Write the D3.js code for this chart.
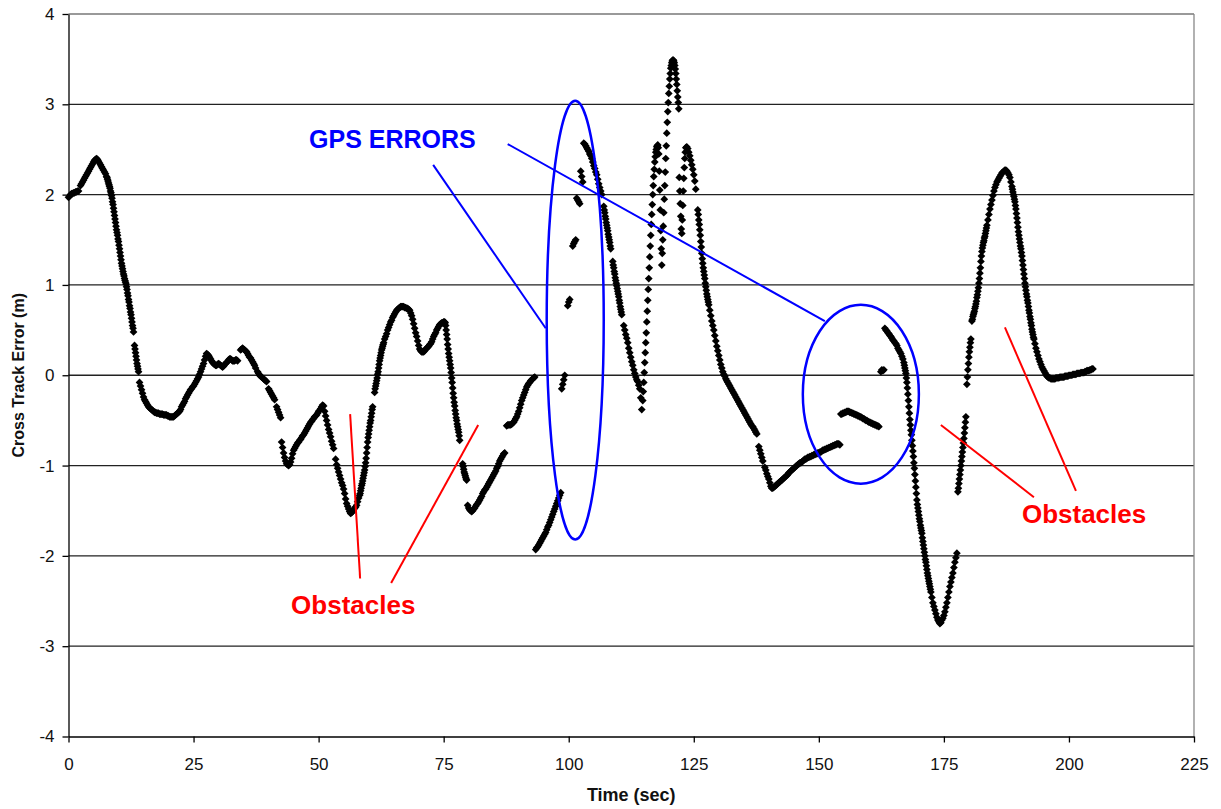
<!DOCTYPE html>
<html>
<head>
<meta charset="utf-8">
<script src="https://cdn.jsdelivr.net/npm/d3@7"></script>
<style>
  html, body { margin: 0; padding: 0; background: #fff; }
  svg { display: block; }
  text { font-family: "Liberation Sans", Arial, sans-serif; }
</style>
</head>
<body>
<svg id="chart" width="1221" height="809"></svg>
<script>
// Cross track error log. Each run is a stretch of consecutive fixes that
// starts at segStart[i] and is spaced segStep[i] seconds apart; breaks
// between runs are dropped fixes.
const segStart = [
  0.0, 2.4, 7.6, 13.2, 14.2, 34.4, 37.8, 40.0, 41.6, 42.6,
  53.4, 58.3, 61.2, 63.2, 75.3, 78.8, 79.8, 87.6, 93.4, 98.6,
  99.8, 100.8, 101.6, 102.4, 103.0, 107.0, 108.8, 111.0, 114.8, 123.6,
  125.8, 128.2, 138.0, 139.2, 154.4, 162.4, 163.2, 167.0, 172.6, 177.8,
  179.6, 180.6, 183.8, 188.7, 193.2
];
const segStep = [
  0.2, 0.2, 0.1, 0.1, 0.2, 0.2, 0.2, 0.2, 0.2, 0.2,
  0.2, 0.1, 0.1, 0.2, 0.1, 0.1, 0.2, 0.2, 0.2, 0.2,
  0.2, 0.2, 0.2, 0.2, 0.2, 0.1, 0.1, 0.2, 0.1, 0.2,
  0.1, 0.2, 0.2, 0.2, 0.2, 0.2, 0.2, 0.1, 0.2, 0.1,
  0.1, 0.1, 0.2, 0.1, 0.2
];

const segValues = [
  [1.97,1.98,2.00,2.01,2.01,2.02,2.02,2.03,2.03,2.04,2.04],
  [2.10,2.12,2.14,2.16,2.18,2.20,2.22,2.24,2.26,2.28,2.30,2.32,2.34,2.36,2.38,2.39,2.40,2.39,2.37,2.35,
   2.33,2.31,2.29,2.27,2.25,2.23],
  [2.20,2.19,2.17,2.15,2.13,2.11,2.09,2.07,2.04,2.02,1.99,1.96,1.92,1.89,1.85,1.81,1.77,1.73,1.69,1.65,
   1.61,1.58,1.55,1.51,1.48,1.44,1.40,1.36,1.32,1.28,1.24,1.21,1.18,1.15,1.12,1.10,1.07,1.05,1.03,1.01,
   0.98,0.95,0.91,0.88,0.84,0.81,0.77,0.74,0.70,0.67,0.63,0.59,0.55,0.52,0.48],
  [0.33,0.29,0.25,0.21,0.17,0.13,0.10,0.07,0.04],
  [-0.08,-0.12,-0.16,-0.20,-0.24,-0.27,-0.29,-0.31,-0.33,-0.35,
   -0.36,-0.37,-0.38,-0.39,-0.40,-0.41,-0.41,-0.42,-0.42,-0.42,
   -0.43,-0.43,-0.43,-0.43,-0.44,-0.44,-0.44,-0.44,-0.45,-0.45,
   -0.46,-0.46,-0.46,-0.46,-0.46,-0.45,-0.44,-0.43,-0.42,-0.41,
   -0.40,-0.38,-0.35,-0.33,-0.31,-0.29,-0.26,-0.24,-0.22,-0.20,
   -0.18,-0.16,-0.15,-0.13,-0.12,-0.10,-0.08,-0.06,-0.04,-0.02,
   0.01,0.04,0.07,0.10,0.13,0.17,0.21,0.24,0.23,0.22,
   0.20,0.18,0.16,0.14,0.13,0.12,0.11,0.11,0.12,0.13,
   0.12,0.11,0.10,0.09,0.10,0.12,0.13,0.14,0.15,0.17,
   0.18,0.18,0.17,0.16,0.16,0.16,0.17,0.17,0.16],
  [0.28,0.29,0.30,0.29,0.28,0.27,0.26,0.24,0.22,0.20,0.19,0.17,0.15,0.13,0.11,0.08],
  [0.04,0.02,0.00,-0.01,-0.02,-0.03,-0.04,-0.05,-0.06,-0.07],
  [-0.15,-0.17,-0.19,-0.21,-0.23,-0.25,-0.27],
  [-0.35,-0.38,-0.41,-0.44,-0.47],
  [-0.74,-0.80,-0.86,-0.91,-0.95,-0.98,-0.99,-1.00,-0.99,-0.96,
   -0.92,-0.87,-0.83,-0.81,-0.79,-0.77,-0.75,-0.74,-0.72,-0.71,
   -0.69,-0.67,-0.66,-0.64,-0.62,-0.60,-0.58,-0.56,-0.54,-0.52,
   -0.51,-0.49,-0.48,-0.46,-0.45,-0.44,-0.42,-0.40,-0.39,-0.37,
   -0.35,-0.33,-0.34,-0.40,-0.45,-0.50,-0.55,-0.60,-0.64,-0.68,
   -0.73,-0.77,-0.81],
  [-0.93,-0.99,-1.03,-1.07,-1.11,-1.15,-1.19,-1.22,-1.26,-1.31,
   -1.37,-1.42,-1.45,-1.48,-1.51,-1.53,-1.52,-1.51,-1.49,-1.47,
   -1.46,-1.44,-1.40,-1.36,-1.33],
  [-1.31,-1.28,-1.25,-1.22,-1.20,-1.17,-1.14,-1.11,-1.08,-1.05,
   -1.01,-0.97,-0.92,-0.86,-0.80,-0.74,-0.69,-0.65,-0.61,-0.57,
   -0.53,-0.50,-0.46,-0.42,-0.38,-0.35],
  [-0.19,-0.15,-0.12,-0.09,-0.06,-0.03,0.01,0.04,0.08,0.12,
   0.16,0.19,0.22,0.25,0.28,0.30,0.32,0.34,0.36],
  [0.40,0.43,0.46,0.50,0.53,0.56,0.59,0.61,0.64,0.66,
   0.68,0.70,0.72,0.73,0.74,0.75,0.76,0.76,0.76,0.76,
   0.75,0.75,0.74,0.74,0.73,0.72,0.69,0.66,0.62,0.57,
   0.52,0.47,0.43,0.38,0.33,0.29,0.27,0.26,0.26,0.26,
   0.27,0.29,0.30,0.31,0.32,0.34,0.35,0.37,0.40,0.43,
   0.45,0.47,0.50,0.52,0.54,0.56,0.57,0.58,0.58,0.59,
   0.59],
  [0.58,0.55,0.50,0.45,0.40,0.34,0.29,0.24,0.20,0.16,
   0.12,0.08,0.03,-0.03,-0.08,-0.14,-0.20,-0.25,-0.30,-0.34,
   -0.39,-0.43,-0.47,-0.50,-0.54,-0.57,-0.60,-0.63,-0.67,-0.72],
  [-0.98,-1.01,-1.04,-1.07,-1.09,-1.11,-1.13,-1.15,-1.16],
  [-1.44,-1.47,-1.49,-1.50,-1.51,-1.50,-1.48,-1.47,-1.45,-1.43,
   -1.42,-1.40,-1.38,-1.36,-1.34,-1.31,-1.29,-1.27,-1.26,-1.24,
   -1.22,-1.20,-1.18,-1.16,-1.14,-1.12,-1.10,-1.08,-1.06,-1.03,
   -1.01,-0.98,-0.95,-0.93,-0.91,-0.89,-0.87,-0.86],
  [-0.56,-0.55,-0.55,-0.55,-0.55,-0.54,-0.53,-0.52,-0.50,-0.48,
   -0.46,-0.43,-0.40,-0.36,-0.32,-0.28,-0.25,-0.22,-0.19,-0.16,
   -0.13,-0.11,-0.09,-0.08,-0.06,-0.05,-0.04,-0.03,-0.02],
  [-1.93,-1.91,-1.90,-1.88,-1.86,-1.84,-1.82,-1.80,-1.78,-1.76,
   -1.74,-1.71,-1.68,-1.66,-1.63,-1.60,-1.57,-1.54,-1.51,-1.48,
   -1.45,-1.42,-1.39,-1.36,-1.33,-1.30],
  [-0.15,-0.10,-0.05,0.00],
  [0.77,0.81,0.84],
  [1.43,1.46,1.48,1.50],
  [1.96,1.94,1.92,1.90],
  [2.26,2.20,2.14],
  [2.57,2.56,2.54,2.52,2.50,2.48,2.45,2.43,2.40,2.36,2.32,2.29,2.25,2.22,2.17,2.12,2.08,2.04,2.00],
  [1.87,1.83,1.80,1.76,1.73,1.69,1.66,1.63,1.60,1.56,1.53,1.50,1.47,1.43,1.40],
  [1.26,1.22,1.19,1.15,1.12,1.08,1.05,1.02,0.99,0.96,0.93,0.90,0.87,0.83,0.80,0.76,0.73,0.70,0.67],
  [0.55,0.50,0.45,0.41,0.36,0.30,0.25,0.20,0.15,0.11,0.06,0.02,-0.02,-0.05,-0.07,-0.11,-0.15,-0.25,-0.38],
  [-0.28,-0.18,-0.08,0.03,0.14,0.25,0.36,0.47,0.59,0.71,
   0.83,0.95,1.07,1.19,1.31,1.43,1.55,1.67,1.78,1.89,
   2.00,2.10,2.20,2.28,2.36,2.42,2.47,2.50,2.53,2.54,
   2.55,2.52,2.45,2.26,2.05,1.83,1.60,1.40,1.22,1.35,
   1.50,1.65,1.80,1.95,2.10,2.25,2.40,2.54,2.68,2.80,
   2.92,3.02,3.12,3.20,3.28,3.34,3.40,3.43,3.46,3.48,
   3.49,3.49,3.48,3.46,3.43,3.39,3.34,3.28,3.22,3.15,
   3.08,3.02,2.95,2.19,2.04,1.90,1.76,1.62,1.57,1.72,
   1.88,2.04,2.18,2.30,2.40,2.47,2.52],
  [2.53,2.51,2.47,2.43,2.38,2.33,2.28,2.22,2.15,2.06],
  [1.83,1.78,1.72,1.67,1.61,1.55,1.48,1.42,1.35,1.29,
   1.24,1.19,1.15,1.11,1.07,1.02,0.98,0.94,0.90,0.87,
   0.84,0.81,0.78],
  [0.72,0.66,0.60,0.55,0.50,0.44,0.38,0.32,0.27,0.22,
   0.17,0.12,0.08,0.04,0.01,-0.01,-0.04,-0.06,-0.08,-0.10,
   -0.12,-0.14,-0.16,-0.18,-0.20,-0.22,-0.24,-0.26,-0.28,-0.30,
   -0.32,-0.34,-0.36,-0.38,-0.40,-0.42,-0.44,-0.46,-0.48,-0.50,
   -0.52,-0.54,-0.56,-0.57,-0.59,-0.61,-0.63,-0.65],
  [-0.79,-0.83,-0.87,-0.91,-0.95],
  [-1.02,-1.05,-1.09,-1.12,-1.15,-1.19,-1.23,-1.25,
   -1.25,-1.24,-1.23,-1.22,-1.21,-1.20,-1.19,-1.18,-1.17,-1.16,
   -1.15,-1.14,-1.13,-1.12,-1.11,-1.10,-1.08,-1.07,-1.06,-1.05,
   -1.04,-1.03,-1.02,-1.01,-1.00,-0.99,-0.98,-0.97,-0.97,-0.96,
   -0.95,-0.94,-0.93,-0.93,-0.92,-0.91,-0.91,-0.90,-0.90,-0.89,
   -0.89,-0.88,-0.88,-0.87,-0.87,-0.86,-0.86,-0.85,-0.85,-0.84,
   -0.83,-0.83,-0.82,-0.82,-0.81,-0.81,-0.80,-0.80,-0.79,-0.79,
   -0.78,-0.78,-0.77,-0.77,-0.76,-0.76,-0.76,-0.77],
  [-0.43,-0.43,-0.42,-0.42,-0.41,-0.41,-0.40,-0.40,-0.40,-0.41,
   -0.41,-0.42,-0.42,-0.43,-0.43,-0.44,-0.44,-0.45,-0.45,-0.46,
   -0.46,-0.47,-0.48,-0.48,-0.49,-0.50,-0.50,-0.51,-0.52,-0.52,
   -0.53,-0.53,-0.54,-0.54,-0.55,-0.55,-0.56,-0.56,-0.57],
  [0.04,0.06,0.05,0.06],
  [0.52,0.50,0.49,0.47,0.46,0.44,0.43,0.41,0.39,0.38,
   0.36,0.35,0.33,0.30,0.28,0.26,0.24,0.21,0.18],
  [0.14,0.11,0.08,0.05,0.02,-0.03,-0.08,-0.14,-0.21,-0.28,
   -0.35,-0.42,-0.49,-0.55,-0.61,-0.66,-0.72,-0.78,-0.84,-0.90,
   -0.97,-1.03,-1.10,-1.17,-1.24,-1.31,-1.38,-1.43,-1.47,-1.51,
   -1.55,-1.59,-1.62,-1.66,-1.69,-1.72,-1.75,-1.80,-1.84,-1.88,
   -1.92,-1.96,-2.00,-2.04,-2.07,-2.11,-2.15,-2.19,-2.22,-2.25,
   -2.28,-2.31,-2.34,-2.37,-2.40],
  [-2.46,-2.52,-2.56,-2.60,-2.64,-2.68,-2.71,-2.73,-2.75,-2.74,
   -2.71,-2.69,-2.66,-2.62,-2.57,-2.52,-2.46,-2.40,-2.34,-2.29,
   -2.24,-2.19,-2.13,-2.07,-2.02,-1.97],
  [-1.29,-1.25,-1.20,-1.15,-1.10,-1.05,-1.00,-0.95,-0.90,-0.85,
   -0.80,-0.75,-0.70,-0.64,-0.58,-0.52,-0.46],
  [-0.10,-0.02,0.06,0.13,0.20,0.26,0.31,0.36,0.40],
  [0.60,0.62,0.65,0.67,0.69,0.71,0.74,0.76,0.79,0.82,
   0.86,0.89,0.93,0.97,1.02,1.07,1.13,1.19,1.26,1.32,
   1.37,1.41,1.44,1.47,1.49,1.52,1.54,1.57,1.60,1.63,
   1.66],
  [1.72,1.78,1.84,1.89,1.94,1.99,2.04,2.08,2.11,2.14,
   2.16,2.18,2.20,2.22,2.24,2.25,2.26,2.27,2.27,2.26,
   2.24,2.22,2.19,2.14,2.09],
  [2.06,2.03,2.00,1.98,1.95,1.92,1.88,1.84,1.79,1.74,
   1.69,1.64,1.59,1.55,1.51,1.47,1.43,1.40,1.36,1.32,
   1.27,1.22,1.17,1.12,1.07,1.02,0.98,0.94,0.90,0.87,
   0.83,0.80,0.76,0.72,0.69,0.65,0.62,0.58,0.55,0.51,
   0.48,0.45,0.42,0.40],
  [0.35,0.30,0.26,0.22,0.18,0.15,0.12,
   0.09,0.07,0.05,0.03,0.01,-0.01,-0.02,-0.03,-0.03,-0.04,
   -0.04,-0.04,-0.04,-0.04,-0.03,-0.03,-0.03,-0.03,-0.02,-0.02,
   -0.02,-0.02,-0.02,-0.01,-0.01,-0.01,-0.01,0.00,0.00,0.00,
   0.00,0.01,0.01,0.01,0.01,0.02,0.02,0.02,0.02,0.03,
   0.03,0.03,0.03,0.04,0.04,0.05,0.05,0.05,0.06,0.06,
   0.07,0.07]
];

const xTicks = [0, 25, 50, 75, 100, 125, 150, 175, 200, 225];
const yTicks = [-4, -3, -2, -1, 0, 1, 2, 3, 4];
const xTitle = "Time (sec)";
const yTitle = "Cross Track Error (m)";

// Callouts, in data units: [t1, v1, t2, v2]
const gpsLeaders = [[72.9, 2.33, 95.4, 0.52], [87.8, 2.56, 151.2, 0.60]];
const gpsRings = [[101.3, 0.61, 5.7, 2.43], [158.4, -0.21, 11.6, 0.99]];   // [t, v, half-width s, half-height m]
const obstacleLeaders = [[56.3, -0.43, 58.3, -2.25], [81.9, -0.55, 64.5, -2.30],
                         [174.4, -0.55, 193.0, -1.35], [187.2, 0.53, 201.4, -1.28]];
const gpsLabel = ["GPS ERRORS", 48.1, 2.52];
const obstacleLabels = [["Obstacles", 44.5, -2.64], ["Obstacles", 190.6, -1.64]];

// ---- layout
const svg = d3.select("#chart");
const plot = { left: 68.5, right: 1194, top: 14, bottom: 736.5 };

const x = d3.scaleLinear().domain([0, 225]).range([plot.left, plot.right]);
const y = d3.scaleLinear().domain([-4, 4]).range([plot.bottom, plot.top]);

// horizontal gridlines
svg.append("g")
  .selectAll("line")
  .data(yTicks.filter(d => d > -4))
  .join("line")
  .attr("x1", plot.left).attr("x2", plot.right)
  .attr("y1", d => y(d)).attr("y2", d => y(d))
  .attr("stroke", d => d === 4 ? "#777" : "#222")
  .attr("stroke-width", 1.3);

// right edge of the plot area
svg.append("line")
  .attr("x1", plot.right).attr("x2", plot.right)
  .attr("y1", plot.top).attr("y2", plot.bottom)
  .attr("stroke", "#888").attr("stroke-width", 1.3);

// axes
const xAxis = svg.append("g")
  .attr("transform", `translate(0,${plot.bottom})`)
  .call(d3.axisBottom(x).tickValues(xTicks).tickSize(6).tickSizeOuter(0)
        .tickPadding(15).tickFormat(d => String(d)));
const yAxis = svg.append("g")
  .attr("transform", `translate(${plot.left},0)`)
  .call(d3.axisLeft(y).tickValues(yTicks).tickSize(6).tickSizeOuter(0)
        .tickPadding(8).tickFormat(d => String(d)));

[xAxis, yAxis].forEach(g => {
  g.select(".domain").attr("stroke", "#000").attr("stroke-width", 1.3);
  g.selectAll(".tick line").attr("stroke", "#000").attr("stroke-width", 1.3);
  g.selectAll(".tick text")
    .attr("fill", "#111")
    .style("font-family", "'Liberation Sans', Arial, sans-serif")
    .style("font-size", "17px");
});

// axis titles
svg.append("text")
  .attr("x", (plot.left + plot.right) / 2).attr("y", 801)
  .attr("text-anchor", "middle")
  .style("font-size", "18px").style("font-weight", "bold")
  .attr("fill", "#111")
  .text(xTitle);
svg.append("text")
  .attr("transform", `translate(24,${y(0)}) rotate(-90)`)
  .attr("text-anchor", "middle")
  .style("font-size", "16px").style("font-weight", "bold")
  .attr("fill", "#111")
  .text(yTitle);

// fixes, drawn as diamonds
const samples = [];
segStart.forEach((t0, i) => {
  segValues[i].forEach((v, k) => samples.push({ t: +(t0 + k * segStep[i]).toFixed(2), v }));
});

const diamond = d3.symbol().type(d3.symbolSquare).size(30)();
svg.append("g")
  .selectAll("path")
  .data(samples)
  .join("path")
  .attr("d", diamond)
  .attr("transform", d => `translate(${x(d.t)},${y(d.v)}) rotate(45)`)
  .attr("fill", "#000");

// GPS error callouts
const blue = "#0000ff";
svg.append("g")
  .selectAll("line")
  .data(gpsLeaders)
  .join("line")
  .attr("x1", d => x(d[0])).attr("y1", d => y(d[1]))
  .attr("x2", d => x(d[2])).attr("y2", d => y(d[3]))
  .attr("stroke", blue).attr("stroke-width", 2);
svg.append("g")
  .selectAll("ellipse")
  .data(gpsRings)
  .join("ellipse")
  .attr("cx", d => x(d[0])).attr("cy", d => y(d[1]))
  .attr("rx", d => x(d[2]) - x(0)).attr("ry", d => y(0) - y(d[3]))
  .attr("fill", "none").attr("stroke", blue).attr("stroke-width", 2.5);
svg.append("text")
  .attr("x", x(gpsLabel[1])).attr("y", y(gpsLabel[2]))
  .style("font-size", "25px").style("font-weight", "bold")
  .attr("fill", blue)
  .text(gpsLabel[0]);

// obstacle callouts
const red = "#ff0000";
svg.append("g")
  .selectAll("line")
  .data(obstacleLeaders)
  .join("line")
  .attr("x1", d => x(d[0])).attr("y1", d => y(d[1]))
  .attr("x2", d => x(d[2])).attr("y2", d => y(d[3]))
  .attr("stroke", red).attr("stroke-width", 2);
svg.append("g")
  .selectAll("text")
  .data(obstacleLabels)
  .join("text")
  .attr("x", d => x(d[1])).attr("y", d => y(d[2]))
  .style("font-size", "26px").style("font-weight", "bold")
  .attr("fill", red)
  .text(d => d[0]);
</script>
</body>
</html>
